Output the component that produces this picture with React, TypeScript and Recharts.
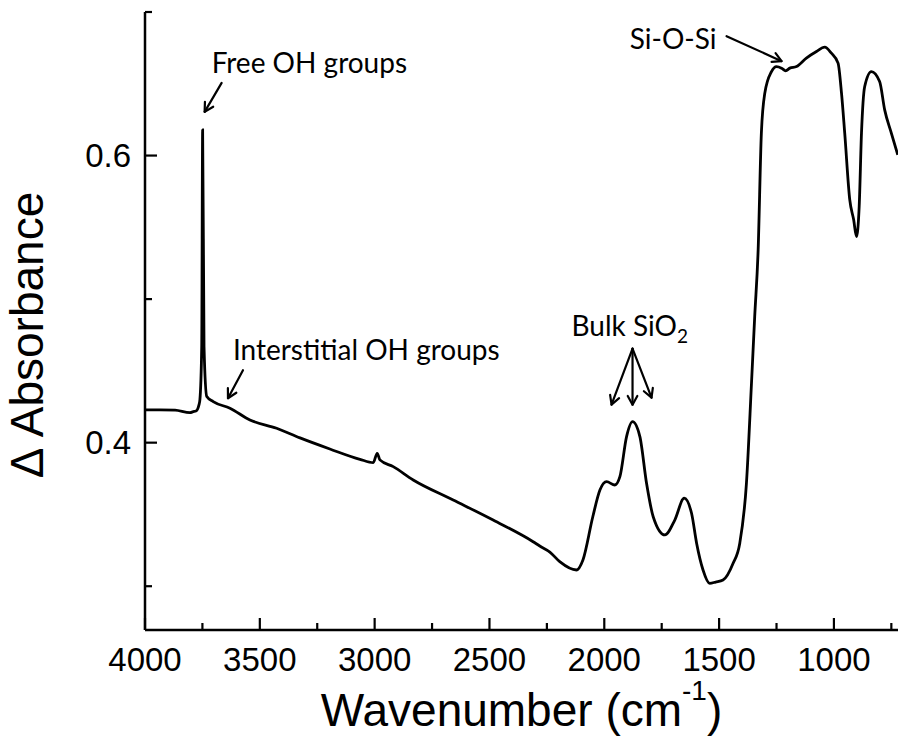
import { ComposedChart, Line, XAxis, YAxis, ReferenceDot } from 'recharts'

// IR difference spectrum, wavenumber (cm-1) against change in absorbance
const wavenumber = [
  4000, 3935, 3869, 3804, 3790, 3778, 3765, 3761, 3753, 3749, 3743, 3731, 3703, 3630, 3543, 3427,
  3325, 3195, 3064, 3006, 2989, 2977, 2919, 2832, 2658, 2484, 2310, 2281, 2237, 2194, 2121, 2093,
  2050, 2019, 1990, 1954, 1932, 1903, 1877, 1845, 1816, 1787, 1736, 1693, 1652, 1620, 1598, 1570,
  1541, 1515, 1483, 1439, 1410, 1381, 1359, 1345, 1330, 1316, 1301, 1272, 1250, 1228, 1210, 1192,
  1163, 1120, 1076, 1040, 1011, 982, 967, 953, 931, 914, 902, 890, 880, 866, 837, 801, 779, 750, 722,
]

const absorbance = [
  0.4228, 0.4229, 0.4226, 0.4209, 0.4216, 0.422, 0.4263, 0.4298, 0.4669, 0.6179, 0.4669, 0.4321, 0.4286, 0.424, 0.4158, 0.41,
  0.4033, 0.3956, 0.3884, 0.3861, 0.3926, 0.388, 0.3833, 0.374, 0.3601, 0.3461, 0.331, 0.328, 0.3238, 0.3171, 0.3113, 0.3183,
  0.3484, 0.367, 0.3728, 0.3705, 0.3763, 0.4042, 0.4146, 0.4042, 0.3717, 0.3484, 0.3357, 0.3461, 0.3613, 0.3508, 0.33, 0.3113,
  0.302, 0.3029, 0.3043, 0.316, 0.33, 0.3717, 0.4414, 0.4878, 0.5343, 0.6156, 0.6435, 0.6585, 0.662, 0.6609, 0.659, 0.6609,
  0.662, 0.6679, 0.6725, 0.6755, 0.6713, 0.6644, 0.6435, 0.6156, 0.5691, 0.5552, 0.5436, 0.5645, 0.6156, 0.6481, 0.6585, 0.6516, 0.6318, 0.6156, 0.6005,
]

const xTicks = [750, 1000, 1250, 1500, 1750, 2000, 2250, 2500, 2750, 3000, 3250, 3500, 3750, 4000]
const yTicks = [0.3, 0.4, 0.5, 0.6, 0.7]
const yLabelled = [0.4, 0.6]

const data = wavenumber.map((w, i) => ({ w, a: absorbance[i] }))

const AXIS_FONT = 'Liberation Sans, Arial, sans-serif'
const NOTE_FONT = 'Lato, sans-serif'

function BottomTick({ x, y, payload }: any) {
  const major = payload.value % 500 === 0
  return (
    <g>
      <line x1={x} x2={x} y1={y} y2={y - (major ? 12 : 7)} stroke="#000" strokeWidth={2.2} />
      {major && (
        <text x={x} y={y + 41} textAnchor="middle" fontSize={33} fontFamily={AXIS_FONT} fill="#000">
          {payload.value}
        </text>
      )}
    </g>
  )
}

function TopTick({ x, y }: any) {
  return <line x1={x} x2={x} y1={y} y2={y + 4} stroke="#000" strokeWidth={2} />
}

function LeftTick({ x, y, payload }: any) {
  const major = yLabelled.some((v) => Math.abs(v - payload.value) < 1e-6)
  return (
    <g>
      <line x1={x} x2={x + (major ? 12 : 7)} y1={y} y2={y} stroke="#000" strokeWidth={2.2} />
      {major && (
        <text x={x - 14} y={y + 11} textAnchor="end" fontSize={33} fontFamily={AXIS_FONT} fill="#000">
          {payload.value.toFixed(1)}
        </text>
      )}
    </g>
  )
}

function XTitle({ viewBox }: any) {
  const cx = viewBox.x + viewBox.width / 2
  const by = viewBox.y + 96
  return (
    <text x={cx} y={by} textAnchor="middle" fontSize={46} fontFamily={AXIS_FONT} fill="#000">
      Wavenumber (cm
      <tspan fontSize={28} dy={-26}>-1</tspan>
      <tspan dy={26}>)</tspan>
    </text>
  )
}

function YTitle({ viewBox }: any) {
  const bx = viewBox.x + 43
  const cy = viewBox.y + viewBox.height / 2 + 14
  return (
    <text
      x={bx}
      y={cy}
      transform={`rotate(-90 ${bx} ${cy})`}
      textAnchor="middle"
      fontSize={46}
      fontFamily={AXIS_FONT}
      fill="#000"
    >
      Δ Absorbance
    </text>
  )
}

function Arrow({ x1, y1, x2, y2 }: { x1: number; y1: number; x2: number; y2: number }) {
  const a = Math.atan2(y2 - y1, x2 - x1)
  const h = 10
  const s = 0.5
  const p1 = `${x2 - h * Math.cos(a - s)},${y2 - h * Math.sin(a - s)}`
  const p2 = `${x2 - h * Math.cos(a + s)},${y2 - h * Math.sin(a + s)}`
  return (
    <g stroke="#000" strokeWidth={2.2} fill="none" strokeLinecap="round" strokeLinejoin="round">
      <line x1={x1} y1={y1} x2={x2} y2={y2} />
      <polyline points={`${p1} ${x2},${y2} ${p2}`} />
    </g>
  )
}

function Note({ x, y, children, anchor = 'start' }: any) {
  return (
    <text x={x} y={y} textAnchor={anchor} fontSize={28} fontFamily={NOTE_FONT} fill="#000">
      {children}
    </text>
  )
}

// annotation shapes, placed relative to the point they point at
const freeOh = ({ cx, cy }: any) => (
  <g>
    <Note x={cx + 9} y={cy - 57}>Free OH groups</Note>
    <Arrow x1={cx + 19} y1={cy - 47} x2={cx + 2} y2={cy - 18} />
  </g>
)

const interstitialOh = ({ cx, cy }: any) => (
  <g>
    <Note x={cx + 3} y={cy - 48}>Interstitial OH groups</Note>
    <Arrow x1={cx + 13} y1={cy - 38} x2={cx - 2} y2={cy - 10} />
  </g>
)

const bulkSio2 = ({ cx, cy }: any) => (
  <g>
    <Note x={cx - 61} y={cy - 86}>
      Bulk SiO<tspan fontSize={19} dy={7}>2</tspan>
    </Note>
    <Arrow x1={cx} y1={cy - 73} x2={cx - 21} y2={cy - 17} />
    <Arrow x1={cx} y1={cy - 73} x2={cx} y2={cy - 17} />
    <Arrow x1={cx} y1={cy - 73} x2={cx + 19} y2={cy - 24} />
  </g>
)

const siOSi = ({ cx, cy }: any) => (
  <g>
    <Note x={cx - 65} y={cy - 19} anchor="end">Si-O-Si</Note>
    <Arrow x1={cx - 55} y1={cy - 32} x2={cx} y2={cy - 7} />
  </g>
)

export default function App() {
  return (
    <div style={{ position: 'fixed', left: 0, top: 0, width: 898, height: 737, background: '#fff' }}>
      <ComposedChart width={898} height={737} data={data} margin={{ top: 12, right: 0, bottom: 0, left: 0 }}>
        <XAxis
          dataKey="w"
          type="number"
          domain={[721, 4000]}
          reversed
          allowDataOverflow
          ticks={xTicks}
          interval={0}
          height={107}
          tickSize={0}
          tickMargin={0}
          tickLine={false}
          tick={<BottomTick />}
          axisLine={{ stroke: '#000', strokeWidth: 2.5 }}
          label={{ content: (p: any) => <XTitle {...p} /> }}
        />
        <XAxis
          xAxisId="top"
          orientation="top"
          type="number"
          domain={[721, 4000]}
          reversed
          allowDataOverflow
          ticks={xTicks}
          interval={0}
          height={0}
          tickSize={0}
          tickMargin={0}
          tickLine={false}
          tick={<TopTick />}
          axisLine={{ stroke: '#000', strokeWidth: 2.5 }}
        />
        <YAxis
          type="number"
          domain={[0.2695, 0.7]}
          allowDataOverflow
          ticks={yTicks}
          interval={0}
          width={145}
          tickSize={0}
          tickMargin={0}
          tickLine={false}
          tick={<LeftTick />}
          axisLine={{ stroke: '#000', strokeWidth: 2.5 }}
          label={{ content: (p: any) => <YTitle {...p} /> }}
        />
        <Line
          type="monotone"
          dataKey="a"
          stroke="#000"
          strokeWidth={2.8}
          dot={false}
          activeDot={false}
          isAnimationActive={false}
        />
        <ReferenceDot x={3749} y={0.6179} r={0} shape={freeOh} />
        <ReferenceDot x={3630} y={0.424} r={0} shape={interstitialOh} />
        <ReferenceDot x={1877} y={0.4146} r={0} shape={bulkSio2} />
        <ReferenceDot x={1228} y={0.6609} r={0} shape={siOSi} />
      </ComposedChart>
    </div>
  )
}
